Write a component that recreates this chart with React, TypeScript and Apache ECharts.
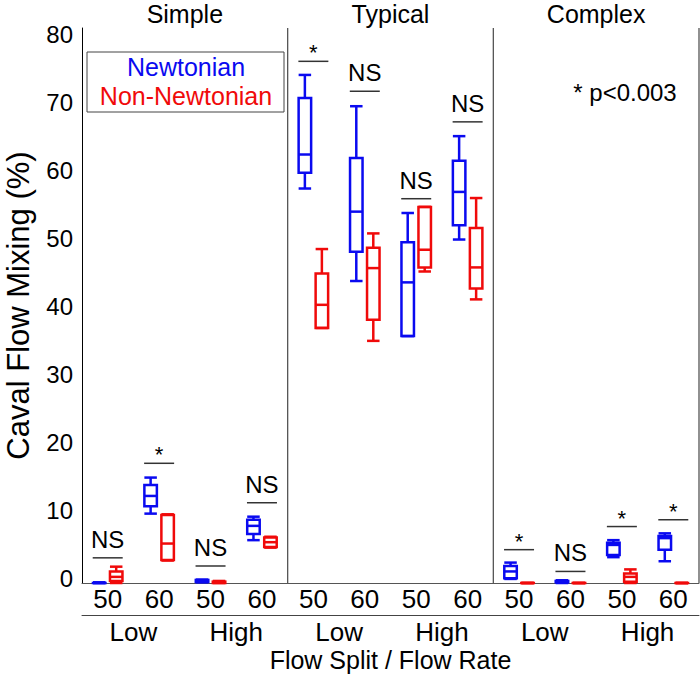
import React, { useEffect, useRef } from 'react';
import * as echarts from 'echarts';

// ---- data ----
const panels = ['Simple', 'Typical', 'Complex'];
const flowSplits = ['Low', 'High'];
const flowRates = ['50', '60'];
const seriesNames = ['Newtonian', 'Non-Newtonian'];
const yMin = 0;
const yMax = 81.6;
const yInterval = 10;

// [min, Q1, median, Q3, max] for each category, in order
// Simple Low 50, Simple Low 60, Simple High 50, Simple High 60, Typical ..., Complex ...
const newtonian = [
  [0, 0, 0, 0, 0.1],
  [10.2, 11.3, 12.8, 14.4, 15.5],
  [0.1, 0.15, 0.3, 0.45, 0.5],
  [6.3, 7.2, 8.4, 9.3, 9.75],
  [58.0, 60.3, 63.0, 71.3, 74.7],
  [44.4, 48.7, 54.6, 62.5, 70.1],
  [36.3, 36.3, 44.2, 50.1, 54.4],
  [50.5, 52.6, 57.5, 62.1, 65.7],
  [0.6, 0.7, 1.7, 2.5, 3.0],
  [0, 0.1, 0.2, 0.3, 0.4],
  [3.8, 4.1, 5.6, 5.9, 6.3],
  [3.2, 4.9, 6.6, 6.9, 7.3],
];
const nonNewtonian = [
  [0, 0.3, 0.9, 1.7, 2.4],
  [3.3, 3.4, 5.8, 10.0, 10.1],
  [0, 0, 0.1, 0.2, 0.3],
  [5.2, 5.3, 6.0, 6.7, 6.8],
  [37.5, 37.5, 40.9, 45.5, 49.1],
  [35.6, 38.7, 46.3, 49.3, 51.4],
  [45.8, 46.4, 49.0, 55.3, 55.3],
  [41.7, 43.3, 46.4, 52.2, 56.6],
  [0, 0, 0, 0, 0],
  [0, 0, 0, 0, 0],
  [0, 0.2, 0.9, 1.4, 2.0],
  [0, 0, 0, 0, 0],
];
const sigLabels = ['NS', '*', 'NS', 'NS', '*', 'NS', 'NS', 'NS', '*', 'NS', '*', '*'];
const sigHeights = [3.7, 17.6, 2.5, 11.8, 76.7, 72.3, 56.5, 67.8, 4.9, 1.7, 8.3, 9.3];
const pValueNote = '* p<0.003';
const xAxisTitle = 'Flow Split / Flow Rate';
const yAxisTitle = 'Caval Flow Mixing (%)';

// ---- style ----
const BLUE = '#0a0af0';
const RED = '#f00a0a';
const FONT = "'Liberation Sans', Arial, Helvetica, sans-serif";
const GRID = { left: 82, right: 1, top: 28, bottom: 91 };
const W = 700;
const H = 674;

const categories = panels.flatMap((p) =>
  flowSplits.flatMap((s) => flowRates.map((r) => `${p}|${s}|${r}`))
);
const groupCategories = panels.flatMap((p) => flowSplits.map((s) => `${p}|${s}`));

function boxRenderer(offset: number, color: string) {
  return (params: any, api: any) => {
    const idx = api.value(0);
    const v = [1, 2, 3, 4, 5].map((i) => api.value(i));
    const cx = api.coord([idx, 0])[0] + offset;
    const y = v.map((val) => api.coord([idx, val])[1]);
    const hw = 6.25;
    const style = { stroke: color, lineWidth: 2.5, fill: 'none' };
    return {
      type: 'group',
      children: [
        { type: 'line', shape: { x1: cx, y1: y[0], x2: cx, y2: y[1] }, style },
        { type: 'line', shape: { x1: cx, y1: y[3], x2: cx, y2: y[4] }, style },
        { type: 'line', shape: { x1: cx - hw, y1: y[0], x2: cx + hw, y2: y[0] }, style },
        { type: 'line', shape: { x1: cx - hw, y1: y[4], x2: cx + hw, y2: y[4] }, style },
        { type: 'rect', shape: { x: cx - hw, y: y[3], width: hw * 2, height: Math.max(y[1] - y[3], 0.01) }, style },
        { type: 'line', shape: { x1: cx - hw, y1: y[2], x2: cx + hw, y2: y[2] }, style },
      ],
    };
  };
}

export default function App() {
  const ref = useRef<HTMLDivElement>(null);

  useEffect(() => {
    if (!ref.current) return;
    const chart = echarts.init(ref.current, undefined, { renderer: 'svg' });
    const plotW = W - GRID.left - GRID.right;
    const panelW = plotW / panels.length;

    const option: any = {
      animation: false,
      textStyle: { fontFamily: FONT, color: '#000' },
      grid: {
        left: GRID.left,
        right: GRID.right,
        top: GRID.top,
        bottom: GRID.bottom,
        containLabel: false,
        outerBoundsMode: 'none',
      },
      legend: {
        data: seriesNames.map((n) => ({ name: n, icon: 'none' })),
        orient: 'vertical',
        left: 87,
        top: 52,
        itemWidth: 0,
        itemHeight: 10,
        itemGap: 4,
        padding: [2, 7, 4, 3],
        borderColor: '#444',
        borderWidth: 1,
        selectedMode: false,
        formatter: (n: string) => `{${n === seriesNames[0] ? 'b' : 'r'}|${n}}`,
        textStyle: {
          rich: {
            b: { color: BLUE, fontSize: 25, width: 182, align: 'center', lineHeight: 28, fontFamily: FONT },
            r: { color: RED, fontSize: 25, width: 182, align: 'center', lineHeight: 28, fontFamily: FONT },
          },
        },
      },
      xAxis: [
        {
          type: 'category',
          data: categories,
          position: 'bottom',
          axisLine: { show: true, lineStyle: { color: '#555', width: 1 } },
          axisTick: { show: false },
          splitLine: { show: false },
          axisLabel: {
            interval: 0,
            margin: 3,
            fontSize: 26,
            color: '#000',
            formatter: (v: string) => v.split('|')[2],
          },
        },
        {
          type: 'category',
          data: groupCategories,
          position: 'bottom',
          offset: 32,
          axisLine: { show: true, lineStyle: { color: '#444', width: 1 } },
          axisTick: { show: false },
          splitLine: { show: false },
          axisLabel: {
            interval: 0,
            margin: 4,
            fontSize: 26,
            color: '#000',
            formatter: (v: string) => v.split('|')[1],
          },
          name: xAxisTitle,
          nameLocation: 'middle',
          nameGap: 34,
          nameMoveOverlap: false,
          nameTextStyle: { fontSize: 25, lineHeight: 22, color: '#000' },
        },
      ],
      yAxis: {
        type: 'value',
        min: yMin,
        max: yMax,
        interval: yInterval,
        axisLine: { show: true, lineStyle: { color: '#000', width: 1 } },
        axisTick: { show: false },
        splitLine: { show: false },
        axisLabel: {
          showMaxLabel: false,
          margin: 9,
          color: '#000',
          formatter: (v: number) => `{t|${v}}`,
          rich: {
            t: { fontSize: 24, fontFamily: FONT, color: '#000', padding: [0, 0, 9, 0] },
          },
        },
        name: yAxisTitle,
        nameLocation: 'middle',
        nameRotate: 90,
        nameGap: 50,
        nameMoveOverlap: false,
        nameTextStyle: { fontSize: 31, lineHeight: 28, color: '#000' },
      },
      graphic: [
        ...panels.map((p, i) => ({
          type: 'text',
          x: GRID.left + panelW * (i + 0.5),
          y: 14,
          style: { text: p, fontSize: 25, fontFamily: FONT, fill: '#000', align: 'center', verticalAlign: 'middle' },
        })),
        {
          type: 'text',
          x: 625,
          y: 92,
          style: { text: pValueNote, fontSize: 24, fontFamily: FONT, fill: '#000', align: 'center', verticalAlign: 'middle' },
        },
      ],
      series: [
        {
          name: seriesNames[0],
          type: 'custom',
          color: BLUE,
          data: newtonian.map((d, i) => [i, ...d]),
          encode: { x: 0, y: [1, 2, 3, 4, 5] },
          renderItem: boxRenderer(-8.5, BLUE),
          z: 3,
        },
        {
          name: seriesNames[1],
          type: 'custom',
          color: RED,
          data: nonNewtonian.map((d, i) => [i, ...d]),
          encode: { x: 0, y: [1, 2, 3, 4, 5] },
          renderItem: boxRenderer(8.5, RED),
          z: 3,
        },
        {
          name: 'significance',
          type: 'custom',
          data: sigHeights.map((h, i) => [i, h]),
          encode: { x: 0, y: 1 },
          renderItem: (params: any, api: any) => {
            const idx = api.value(0);
            const [cx, cy] = api.coord([idx, api.value(1)]);
            const label = sigLabels[params.dataIndex];
            const isStar = label === '*';
            return {
              type: 'group',
              children: [
                { type: 'line', shape: { x1: cx - 15, y1: cy, x2: cx + 15, y2: cy }, style: { stroke: '#333', lineWidth: 1.5 } },
                {
                  type: 'text',
                  x: cx,
                  y: cy - (isStar ? 8.5 : 18.5),
                  style: { text: label, fontSize: isStar ? 22 : 24, fontFamily: FONT, fill: '#000', align: 'center', verticalAlign: 'middle' },
                },
              ],
            };
          },
          z: 2,
        },
        {
          name: 'panel dividers',
          type: 'custom',
          data: [[3], [7], [11]],
          encode: { x: 0 },
          renderItem: (params: any, api: any) => {
            const idx = api.value(0);
            const band = api.size([1, 0])[0];
            const x = api.coord([idx, 0])[0] + band / 2;
            const yb = api.coord([idx, yMin])[1];
            const yt = api.coord([idx, yMax])[1];
            return { type: 'line', shape: { x1: x, y1: yt, x2: x, y2: yb }, style: { stroke: '#555', lineWidth: 1.3 } };
          },
          z: 1,
        },
      ],
    };
    chart.setOption(option);
    return () => chart.dispose();
  }, []);

  return <div ref={ref} style={{ position: 'absolute', left: 0, top: 0, width: W, height: H }} />;
}
